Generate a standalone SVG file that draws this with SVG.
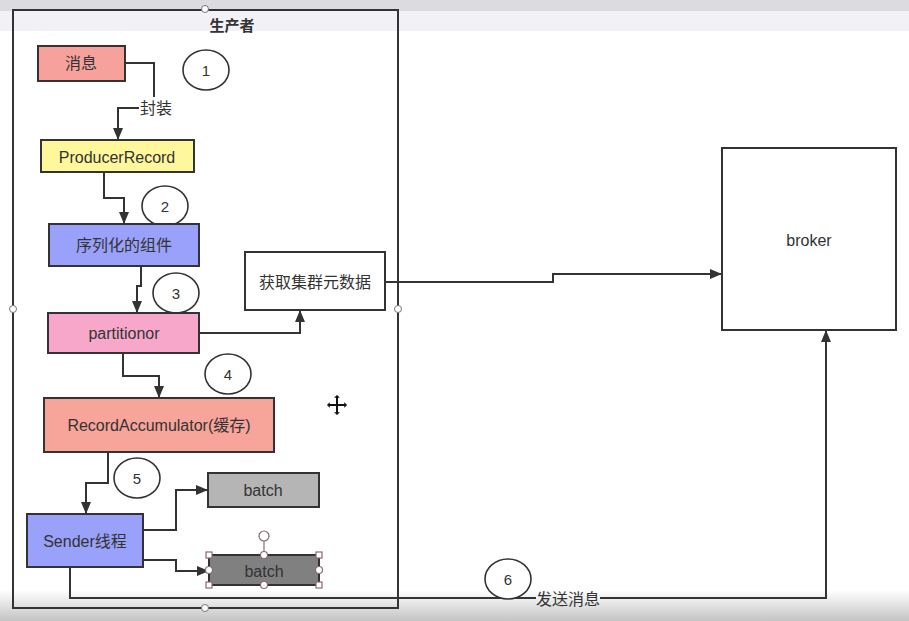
<svg xmlns="http://www.w3.org/2000/svg" width="909" height="621" viewBox="0 0 909 621">
<defs>
<marker id="arr" markerWidth="12" markerHeight="10" refX="11" refY="5" orient="auto" markerUnits="userSpaceOnUse">
<path d="M0,0 L12,5 L0,10 Z" fill="#333"/>
</marker>
<linearGradient id="bot" x1="0" y1="0" x2="0" y2="1">
<stop offset="0" stop-color="#ffffff"/>
<stop offset="1" stop-color="#c4c4c4"/>
</linearGradient>
<style>
.box{stroke:#333;stroke-width:2}
.t{font-family:"Liberation Sans","Noto Sans CJK SC",sans-serif;font-size:16px;fill:#333;text-anchor:middle;dominant-baseline:central}
.num{font-family:"Liberation Sans",sans-serif;font-size:15px;fill:#333;text-anchor:middle;dominant-baseline:central}
.c{fill:#fff;stroke:#333;stroke-width:1.6}
.ln{fill:none;stroke:#333;stroke-width:2}
.h{fill:#fff;stroke:#8a6a70;stroke-width:1.2}
</style>
</defs>
<rect x="0" y="0" width="909" height="621" fill="#fff"/>
<rect x="0" y="0" width="909" height="11" fill="#dcdbe0"/>
<rect x="0" y="11" width="909" height="20" fill="#f2f1f5"/>
<rect x="0" y="590" width="909" height="31" fill="url(#bot)"/>

<g id="producer">
<rect x="13" y="10" width="385" height="598" fill="none" class="box"/>
<text x="232" y="25" class="t" style="font-weight:bold;font-size:15px">生产者</text>
</g>

<g id="connectors">
<polyline class="ln" points="125,63 154,63 154,97"/>
<polyline class="ln" points="139,108 118,108 118,139" marker-end="url(#arr)"/>
<text x="156" y="108" class="t">封装</text>
<polyline class="ln" points="104,172 104,198 124,198 124,223" marker-end="url(#arr)"/>
<polyline class="ln" points="141,266 141,286 137,286 137,312" marker-end="url(#arr)"/>
<polyline class="ln" points="199,333 300,333 300,311" marker-end="url(#arr)"/>
<polyline class="ln" points="385,282 553,282 553,274 721,274" marker-end="url(#arr)"/>
<polyline class="ln" points="123,353 123,376 159,376 159,397" marker-end="url(#arr)"/>
<polyline class="ln" points="108,452 108,483 86,483 86,513" marker-end="url(#arr)"/>
<polyline class="ln" points="143,530 176,530 176,490 207,490" marker-end="url(#arr)"/>
<polyline class="ln" points="143,560 176,560 176,571 208,571" marker-end="url(#arr)"/>
<polyline class="ln" points="70,567 70,598 536,598"/>
<polyline class="ln" points="600,598 826,598 826,331" marker-end="url(#arr)"/>
<text x="568" y="599" class="t">发送消息</text>
</g>

<g id="msg">
<rect x="38" y="46" width="87" height="35" fill="#f6a19b" class="box"/>
<text x="81" y="63" class="t">消息</text>
</g>
<g id="step1"><ellipse cx="206" cy="70" rx="23" ry="20" class="c"/><text x="206" y="70" class="num">1</text></g>

<g id="producerRecord">
<rect x="41" y="140" width="153" height="32" fill="#fff79c" class="box"/>
<text x="117" y="157" class="t">ProducerRecord</text>
</g>
<g id="step2"><ellipse cx="165" cy="206" rx="23" ry="20" class="c"/><text x="165" y="206" class="num">2</text></g>

<g id="serializer">
<rect x="49" y="224" width="150" height="42" fill="#99a1fb" class="box"/>
<text x="124" y="245" class="t">序列化的组件</text>
</g>
<g id="step3"><ellipse cx="176" cy="293" rx="23" ry="20" class="c"/><text x="176" y="293" class="num">3</text></g>

<g id="partitionor">
<rect x="48" y="313" width="151" height="40" fill="#f7a8ca" class="box"/>
<text x="124" y="333" class="t">partitionor</text>
</g>

<g id="metadata">
<rect x="245" y="252" width="140" height="58" fill="#fff" class="box"/>
<text x="315" y="282" class="t">获取集群元数据</text>
</g>

<g id="step4"><ellipse cx="228" cy="374" rx="23" ry="20" class="c"/><text x="228" y="374" class="num">4</text></g>

<g id="accumulator">
<rect x="44" y="398" width="230" height="54" fill="#f7a49a" class="box"/>
<text x="159" y="425" class="t">RecordAccumulator(缓存)</text>
</g>

<g id="step5"><ellipse cx="137" cy="478" rx="23" ry="20" class="c"/><text x="137" y="478" class="num">5</text></g>

<g id="sender">
<rect x="27" y="514" width="116" height="53" fill="#99a1fb" class="box"/>
<text x="85" y="541" class="t">Sender线程</text>
</g>

<g id="batch1">
<rect x="208" y="473" width="111" height="34" fill="#b5b5b5" class="box"/>
<text x="263" y="490" class="t">batch</text>
</g>

<g id="batch2">
<rect x="209" y="555" width="110" height="30" fill="#808080" class="box"/>
<text x="264" y="571" class="t">batch</text>
<line x1="264" y1="541" x2="264" y2="555" stroke="#8a6a70" stroke-width="1.2"/>
<circle cx="264" cy="536" r="5" class="h"/>
<rect x="206" y="552" width="6" height="6" class="h"/>
<rect x="316" y="552" width="6" height="6" class="h"/>
<rect x="206" y="582" width="6" height="6" class="h"/>
<rect x="316" y="582" width="6" height="6" class="h"/>
<circle cx="264" cy="555" r="3.5" class="h"/>
<circle cx="264" cy="585" r="3.5" class="h"/>
<circle cx="209" cy="570" r="3.5" class="h"/>
<circle cx="319" cy="570" r="3.5" class="h"/>
</g>

<g id="broker">
<rect x="722" y="148" width="174" height="182" fill="#fff" class="box"/>
<text x="809" y="240" class="t">broker</text>
</g>

<g id="step6"><ellipse cx="508" cy="579" rx="23" ry="20" class="c"/><text x="508" y="579" class="num">6</text></g>

<g id="handles">
<circle cx="205" cy="9" r="3.5" fill="#fff" stroke="#777" stroke-width="1"/>
<circle cx="13" cy="309" r="3.5" fill="#fff" stroke="#777" stroke-width="1"/>
<circle cx="398" cy="309" r="3.5" fill="#fff" stroke="#777" stroke-width="1"/>
<circle cx="205" cy="608" r="3.5" fill="#fff" stroke="#777" stroke-width="1"/>
</g>

<g id="cursor" transform="translate(337,405) scale(1.1)">
<path d="M0,-10 L4,-6 L1.5,-6 L1.5,-1.5 L6,-1.5 L6,-4 L10,0 L6,4 L6,1.5 L1.5,1.5 L1.5,6 L4,6 L0,10 L-4,6 L-1.5,6 L-1.5,1.5 L-6,1.5 L-6,4 L-10,0 L-6,-4 L-6,-1.5 L-1.5,-1.5 L-1.5,-6 L-4,-6 Z" fill="#111" stroke="#fff" stroke-width="1.2"/>
</g>
</svg>
